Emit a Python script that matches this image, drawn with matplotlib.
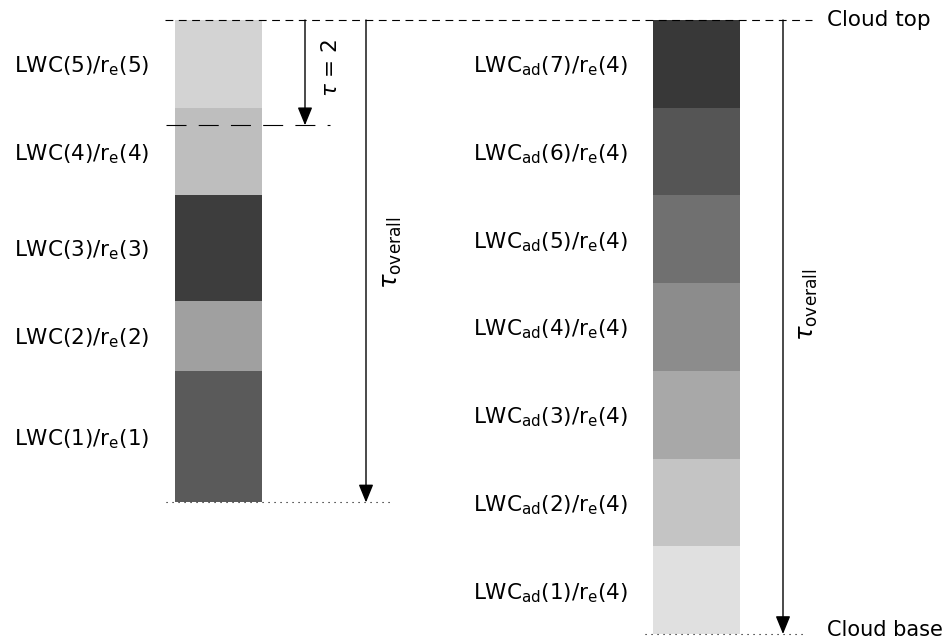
import numpy as np
import matplotlib
matplotlib.use("Agg")
import matplotlib.pyplot as plt

# layer boundaries (height units, cloud base = 0, cloud top = 7)
left_edges = [1.5, 3.0, 3.8, 5.0, 6.0, 7.0]
left_grey = ["#5a5a5a", "#a0a0a0", "#3d3d3d", "#bebebe", "#d3d3d3"]
left_labels = [r"LWC(%d)/r$_{\rm e}$(%d)" % (i, i) for i in range(1, 6)]

right_edges = [0, 1, 2, 3, 4, 5, 6, 7]
right_grey = ["#e0e0e0", "#c4c4c4", "#a8a8a8", "#8c8c8c",
              "#707070", "#555555", "#383838"]
right_labels = [r"LWC$_{\rm ad}$(%d)/r$_{\rm e}$(4)" % i for i in range(1, 8)]

tau2_level = 5.8
cloud_top = 7.0
cloud_base = 0.0

fig = plt.figure(figsize=(9.53, 6.41), dpi=100)
ax = fig.add_axes([0, 0, 1, 1])
ax.set_xlim(0, 953)
ax.set_ylim(-0.0798, 7.228)
ax.axis("off")

fs = 15.5


def column(x0, width, edges, greys, labels, xlab):
    for k in range(len(greys)):
        ax.bar(x0, edges[k + 1] - edges[k], bottom=edges[k], width=width,
               align="edge", color=greys[k], linewidth=0)
        ax.text(xlab, 0.5 * (edges[k] + edges[k + 1]) - 0.03, labels[k],
                ha="center", va="center", fontsize=fs)


def down_arrow(x, y0, y1):
    ax.annotate("", xy=(x, y1), xytext=(x, y0),
                arrowprops=dict(arrowstyle="-|>,head_length=1.1,head_width=0.45",
                                color="black", lw=1.0, shrinkA=0, shrinkB=0))


column(175, 87, left_edges, left_grey, left_labels, 82)
column(653, 87, right_edges, right_grey, right_labels, 551)

# cloud top / base / tau = 2 reference lines
ax.plot([165, 812], [cloud_top, cloud_top], color="black", lw=0.8, ls=(0, (7, 5)))
ax.plot([166, 330], [tau2_level, tau2_level], color="black", lw=0.8, ls=(0, (18, 11)))
ax.plot([166, 392], [left_edges[0], left_edges[0]], color="black", lw=0.8, ls=(0, (1, 4.4)))
ax.plot([645, 806], [cloud_base, cloud_base], color="black", lw=0.8, ls=(0, (1, 4.4)))
ax.text(827, 6.93, "Cloud top", ha="left", va="baseline", fontsize=fs)
ax.text(827, -0.02, "Cloud base", ha="left", va="baseline", fontsize=fs - 0.5)

# optical depth arrows
down_arrow(305, cloud_top, tau2_level)
ax.text(331, 0.5 * (cloud_top + tau2_level) + 0.05, r"$\tau$ = 2", rotation=90,
        ha="center", va="center", fontsize=fs)
down_arrow(366, cloud_top, left_edges[0])
ax.text(392, 4.35, r"$\tau_{\rm overall}$", rotation=90,
        ha="center", va="center", fontsize=fs + 2)
down_arrow(783, cloud_top, cloud_base)
ax.text(808, 3.75, r"$\tau_{\rm overall}$", rotation=90,
        ha="center", va="center", fontsize=fs + 2)

fig.savefig("out.png", dpi=100)
